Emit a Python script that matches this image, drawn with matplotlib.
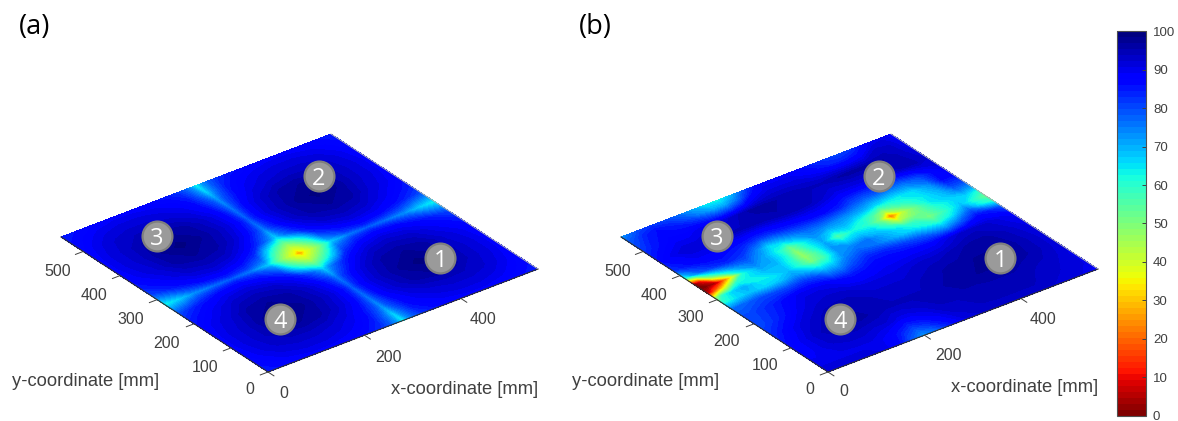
import numpy as np
import matplotlib
matplotlib.use("Agg")
import matplotlib.pyplot as plt
from matplotlib.cm import ScalarMappable
from matplotlib.colors import Normalize
from matplotlib.transforms import Affine2D

plt.rcParams['font.family'] = ['Liberation Sans', 'DejaVu Sans']

quarter_pos = [0, 30, 60, 100, 140, 180, 215, 240, 255, 268, 280]
quarter_a = [
    [85,86,87,88,88,87,85,82,78,72,62],
    [86,88,90,91,91,90,88,85,80,74,66],
    [87,90,92,93,93,92,90,87,83,79,72],
    [88,91,93,96,97,96,93,90,87,82,75],
    [88,91,93,97,99,97,94,91,88,84,77],
    [87,90,92,96,97,96,93,89,85,81,74],
    [84,87,90,93,94,93,89,83,78,73,66],
    [80,84,87,90,91,89,83,68,60,54,50],
    [74,78,83,87,88,85,78,60,52,46,42],
    [68,72,78,82,84,81,73,54,46,40,36],
    [62,66,72,75,77,74,66,50,42,36,24],
]

# panel (b), rows are y_b, columns x_b
x_b = [0,15,35,60,90,120,150,175,200,225,255,285,315,345,370,395,420,445,475,510,535,560]
y_b = [0,30,70,110,150,190,230,260,285,305,325,345,365,390,420,460,500,540,560]
field_b = [
    [92,92,92,92,92,90,86,78,72,76,84,90,92,92,93,93,93,93,92,92,90,88],
    [90,90,90,90,90,90,88,84,80,83,88,92,93,94,94,94,94,94,93,92,92,90],
    [88,88,90,92,93,93,92,92,90,90,92,94,94,95,95,95,95,95,94,93,92,90],
    [86,88,90,93,95,96,96,95,94,94,94,94,95,96,96,97,97,97,96,95,93,91],
    [83,85,88,91,93,95,95,95,94,93,93,93,94,95,96,96,97,97,97,95,93,91],
    [80,81,83,86,90,92,93,93,92,91,91,91,92,93,93,94,95,96,96,94,92,90],
    [80,80,82,84,87,90,90,89,86,85,86,88,88,88,88,88,90,92,93,92,90,88],
    [76,77,78,80,80,80,82,80,74,74,80,84,84,82,80,78,74,72,78,86,84,78],
    [60,62,66,68,66,68,72,68,62,64,74,78,76,72,68,66,62,58,64,76,64,58],
    [45,60,66,70,64,64,68,60,50,56,72,74,76,70,66,60,58,50,58,68,60,52],
    [5,18,35,60,64,68,68,60,46,56,72,65,68,66,58,42,48,52,60,66,66,60],
    [0,0,5,30,62,72,70,62,47,60,70,54,62,60,50,20,42,52,64,68,74,72],
    [2,10,45,62,72,76,70,62,52,62,72,66,68,62,56,46,54,60,64,70,80,80],
    [60,70,78,82,84,82,74,66,68,72,76,76,74,72,70,66,64,64,66,74,86,86],
    [82,84,86,88,88,86,84,82,82,84,85,86,86,84,80,78,78,76,76,80,86,90],
    [86,88,90,92,92,92,94,94,94,94,95,95,94,92,90,90,90,90,92,94,94,92],
    [82,84,86,88,88,90,91,92,94,96,96,95,95,94,94,95,96,96,96,95,93,90],
    [78,80,84,86,84,80,74,70,70,76,86,90,90,90,88,86,84,84,86,92,92,88],
    [72,76,80,82,80,76,70,64,62,68,80,88,88,88,86,84,82,80,82,88,90,88],
]

plate_size = 560
x_ticks = [0, 200, 400]
y_ticks = [0, 100, 200, 300, 400, 500]
cbar_ticks = list(range(0, 101, 10))
sensor_ids = ['1', '2', '3', '4']
sensor_x = [454, 460, 128, 122]
sensor_y = [126, 462, 467, 127]

TXT = '#404040'

# mirror the quarter to get the whole plate
q = np.array(quarter_a)
top = np.hstack([q, q[:, -2::-1]])
field_a = np.vstack([top, top[-2::-1, :]])
pos_a = quarter_pos + [plate_size - p for p in quarter_pos[-2::-1]]

fig = plt.figure(figsize=(11.78, 4.21), dpi=100)
ax = fig.add_axes([0, 0, 1, 1])
cmap = plt.get_cmap('jet_r', 64)
levels = np.linspace(0, 100, 65)


def draw_panel(xs, ys, field, dx, dy, name):
    # oblique view of the plate: mm to figure pixels
    view = Affine2D.from_values(270 / plate_size, -103 / plate_size,
                                -207 / plate_size, -135 / plate_size,
                                268 + dx, 372) + ax.transData
    ax.contourf(xs, ys, np.array(field), levels=levels, cmap=cmap, vmin=0, vmax=100,
                transform=view, zorder=1)

    ax.plot([0, plate_size], [0, 0], color='#303030', lw=0.8, transform=view, zorder=2)
    ax.plot([0, 0], [0, plate_size], color='#303030', lw=0.8, transform=view, zorder=2)
    ax.plot([plate_size, plate_size], [0, plate_size], color='#b0b0b0', lw=0.7, transform=view, zorder=2)
    for t in x_ticks:
        ax.plot([t, t], [0, -16], color='#404040', lw=0.7, transform=view, zorder=2)
    for t in y_ticks:
        ax.plot([0, -16], [t, t], color='#404040', lw=0.7, transform=view, zorder=2)

    ax.plot(sensor_x, sensor_y, 'o', ms=21.5, mfc='#9a9a9a', mec='#7f7f7f', mew=1.6,
            transform=view, zorder=3, ls='none')
    for s, sx, sy in zip(sensor_ids, sensor_x, sensor_y):
        ax.text(sx, sy, s, color='white', fontsize=17, family='Open Sans', ha='center',
                va='center_baseline', transform=view, zorder=4)

    for t, px, py in zip(x_ticks, [284, 388, 483], [393, 357, 320]):
        ax.text(px + dx, py + dy, str(t), color=TXT, fontsize=11.5, ha='center', va='center')
    for t, px, py in zip(y_ticks, [250, 205, 167, 131, 94, 58], [390, 367, 343, 319, 296, 272]):
        ax.text(px + dx, py + dy, str(t), color=TXT, fontsize=11.5, ha='center', va='center')
    ax.text(86 + dx, 382 + dy, 'y-coordinate [mm]', color=TXT, fontsize=13.2, ha='center', va='center')
    ax.text(465 + dx, 389 + dy, 'x-coordinate [mm]', color=TXT, fontsize=13.2, ha='center', va='center')
    ax.text(19 + dx, 27, name, color='black', fontsize=19.5, family='Open Sans', ha='left', va='center')


draw_panel(pos_a, pos_a, field_a, 0, 0, '(a)')
draw_panel(x_b, y_b, field_b, 560, -1, '(b)')

ax.set_xlim(0, 1178)
ax.set_ylim(421, 0)
ax.axis('off')

cax = fig.add_axes([1117 / 1178, 1 - 415.5 / 421, 29 / 1178, 384 / 421])
cb = fig.colorbar(ScalarMappable(Normalize(0, 100), cmap), cax=cax, ticks=cbar_ticks)
cb.ax.tick_params(direction='in', length=3, width=0.7, color='#404040', labelcolor=TXT,
                  labelsize=9.5, pad=5)
cb.outline.set_edgecolor('#505050')
cb.outline.set_linewidth(0.8)

fig.savefig('out.png', dpi=100)
